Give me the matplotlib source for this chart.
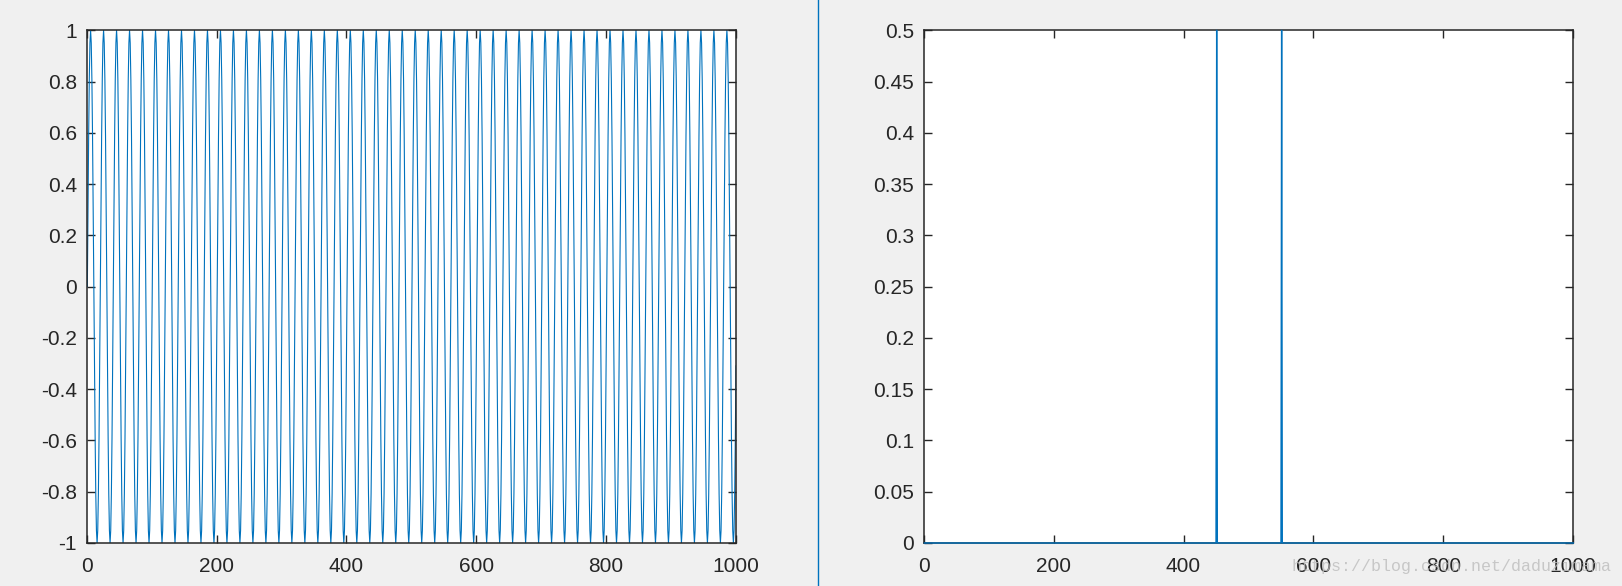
import numpy as np
import matplotlib
matplotlib.use("Agg")
import matplotlib.pyplot as plt
from matplotlib.ticker import FuncFormatter
from matplotlib.lines import Line2D

# time signal: cosine (period in samples, first crest, amplitude)
n_samples = 1000
tone_period = 20
first_crest = 6
amplitude = 1.0

# spectrum: two spikes, zero elsewhere
spike_bins = [451, 551]
spike_heights = [0.5, 0.5]

left_yticks = [-1, -0.8, -0.6, -0.4, -0.2, 0, 0.2, 0.4, 0.6, 0.8, 1]
right_yticks = [0, 0.05, 0.1, 0.15, 0.2, 0.25, 0.3, 0.35, 0.4, 0.45, 0.5]
xticks = [0, 200, 400, 600, 800, 1000]

n = np.arange(1, n_samples + 1)
signal = amplitude * np.cos(2 * np.pi * (n - first_crest) / tone_period)

spectrum = np.zeros(n_samples)
for b, h in zip(spike_bins, spike_heights):
    spectrum[b - 1] = h

line_col = '#0072BD'
plt.rcParams['font.family'] = ['Liberation Sans', 'DejaVu Sans']

fig = plt.figure(figsize=(16.22, 5.86), dpi=100, facecolor='#F0F0F0')
ax1 = fig.add_axes([0.05345, 0.07338, 0.4003, 0.8749])
ax2 = fig.add_axes([0.56948, 0.07338, 0.4005, 0.8749])


def fmt(v, pos):
    return '%g' % v


for ax in (ax1, ax2):
    ax.set_facecolor('white')
    for sp in ax.spines.values():
        sp.set_linewidth(1.1)
        sp.set_color('#262626')
    ax.tick_params(direction='in', length=5.5, width=1.0, color='#262626',
                   top=True, right=True, labelsize=15, labelcolor='#262626')
    ax.tick_params(axis='y', pad=7)
    ax.tick_params(axis='x', pad=10)
    ax.set_xlim(0, 1000)
    ax.set_xticks(xticks)
    ax.xaxis.set_major_formatter(FuncFormatter(fmt))
    ax.yaxis.set_major_formatter(FuncFormatter(fmt))

ax1.plot(n, signal, color=line_col, linewidth=0.8)
ax1.set_ylim(-1, 1)
ax1.set_yticks(left_yticks)

ax2.plot(n, spectrum, color=line_col, linewidth=1.0, clip_on=False, zorder=5)
ax2.set_ylim(0, 0.5)
ax2.set_yticks(right_yticks)

# thin blue divider between the two panels
fig.add_artist(Line2D([0.5041, 0.5041], [0, 1], transform=fig.transFigure,
                      color=line_col, linewidth=1.0))

# blog watermark
fig.text(0.7965, 0.025, 'https://blog.csdn.net/daduzimama', family='Liberation Mono',
         fontsize=12, color='#bdbdbd', alpha=0.8, zorder=10)

fig.savefig('out.png', dpi=100, facecolor=fig.get_facecolor())
